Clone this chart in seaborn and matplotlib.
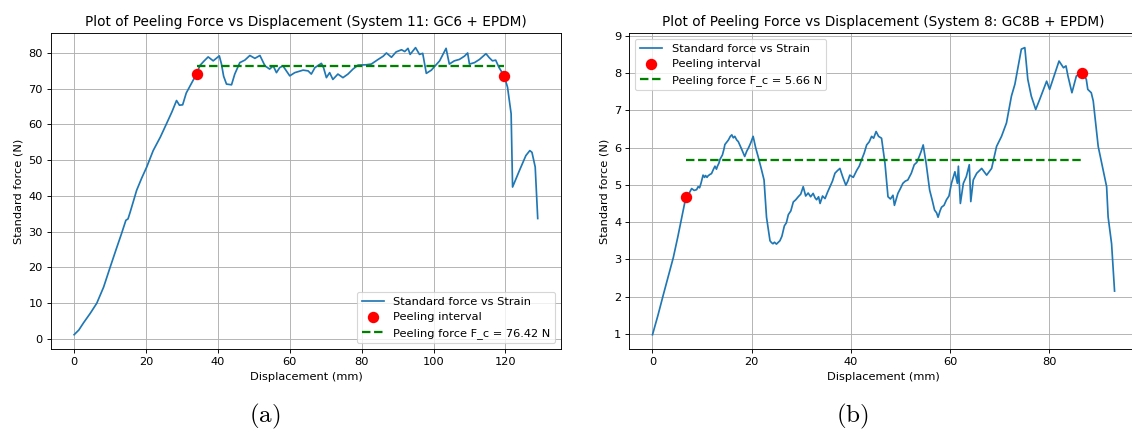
import matplotlib
matplotlib.use("Agg")
import matplotlib.pyplot as plt
import seaborn as sns

# system 11: GC6 + EPDM
a_disp = [0, 1.3, 2.6, 4.5, 6.3, 8.2, 10.0, 11.6, 13.2, 14.4, 15.0, 15.6, 17.4, 18.8,
          20.2, 22.0, 24.0, 25.7, 27.2, 28.5, 29.3, 30.2, 31.2, 32.7, 34.1, 35.0, 36.2,
          37.3, 38.7, 40.4, 41.0, 41.6, 42.4, 43.8, 44.7, 46.1, 47.5, 48.9, 50.3, 51.7,
          53.1, 54.4, 55.4, 56.3, 57.2, 58.1, 60.0, 61.4, 63.7, 65.1, 66.0, 67.0, 68.8,
          69.4, 70.2, 71.1, 72.0, 73.4, 74.8, 76.2, 77.6, 79.0, 81.3, 82.7, 84.6, 86.0,
          86.9, 88.3, 89.6, 91.1, 92.0, 92.9, 93.5, 95.0, 96.1, 97.0, 98.0, 99.4, 101.7,
          103.5, 104.4, 105.8, 107.2, 108.6, 109.5, 110.0, 111.4, 112.8, 114.6, 115.5,
          116.4, 117.3, 118.2, 119.7, 120.6, 121.6, 122.0, 123.9, 125.7, 126.8, 127.4,
          128.3, 129.0]
a_force = [1.2, 2.5, 4.5, 7.2, 10.0, 14.5, 20.0, 24.8, 29.5, 33.2, 33.6, 35.5, 41.6, 45.0,
           48.1, 52.7, 56.5, 60.2, 63.5, 66.7, 65.4, 65.5, 68.8, 71.6, 74.2, 76.5, 77.8,
           78.9, 77.8, 79.2, 76.9, 73.5, 71.3, 71.1, 74.1, 77.3, 78.0, 79.3, 78.5, 79.3,
           76.4, 75.5, 76.4, 74.5, 75.9, 76.4, 73.6, 74.5, 75.2, 75.0, 74.1, 75.9, 77.1,
           75.9, 73.1, 74.5, 72.6, 74.1, 73.1, 74.1, 75.5, 76.6, 76.7, 76.9, 78.2, 79.1,
           80.0, 78.8, 80.3, 80.9, 80.4, 81.3, 79.6, 81.5, 79.6, 79.9, 74.3, 75.2, 77.8,
           81.3, 76.9, 77.8, 78.2, 79.1, 80.0, 76.9, 77.3, 78.2, 79.8, 78.7,
           77.8, 78.0, 76.0, 73.5, 70.4, 63.0, 42.5, 47.1, 51.3, 52.7, 52.2,
           48.1, 33.7]
a_interval_x = [34.1, 119.7]
a_interval_y = [74.2, 73.5]
a_fc = 76.42

# system 8: GC8B + EPDM
b_disp = [0.0, 1.1, 2.2, 3.2, 4.2, 5.1, 5.9, 6.75, 7.3, 7.9, 8.4, 8.9, 9.2, 9.5, 9.8,
          10.2, 10.5, 10.7, 11.0, 11.2, 11.6, 11.9, 12.3, 12.6, 12.9, 13.1, 13.4, 13.6,
          14.1, 14.4, 14.6, 15.0, 15.3, 15.7, 16.0, 16.3, 16.6, 17.0, 17.3, 18.0, 18.6,
          19.0, 19.4, 19.8, 20.3, 20.8, 21.3, 22.0, 22.5, 23.0, 23.7, 24.0, 24.3, 24.6,
          25.0, 25.3, 25.7, 26.1, 26.6, 27.0, 27.4, 27.9, 28.4, 28.9, 29.4, 29.9, 30.4,
          30.9, 31.4, 31.9, 32.4, 32.8, 33.1, 33.5, 33.8, 34.3, 34.8, 35.3, 35.8, 36.3,
          36.8, 37.3, 37.8, 38.4, 39.0, 39.4, 39.8, 40.5, 41.2, 41.7, 42.2, 42.7, 43.2,
          43.7, 44.2, 44.6, 45.1, 45.6, 46.2, 46.9, 47.5, 48.0, 48.5, 48.8, 49.5, 50.0,
          50.5, 51.0, 51.5, 52.2, 52.8, 53.3, 53.8, 54.2, 54.6, 55.2, 55.9, 56.4, 56.9,
          57.3, 57.6, 58.0, 58.3, 58.8, 59.3, 59.8, 60.3, 61.0, 61.5, 61.7, 62.1, 62.7,
          63.3, 63.9, 64.2, 64.7, 65.4, 66.4, 67.4, 68.4, 69.4, 70.4, 71.4, 72.4, 73.1,
          73.8, 74.4, 75.1, 75.7, 76.4, 77.3, 78.1, 79.5, 80.1, 81.1, 82.0, 82.9, 83.4,
          83.8, 84.6, 85.5, 86.7, 87.5, 87.8, 88.5, 88.9, 89.9, 90.9, 91.6, 91.9, 92.6,
          93.2]
b_force = [0.98, 1.5, 2.06, 2.55, 3.05, 3.6, 4.13, 4.68, 4.75, 4.9, 4.85, 4.87, 4.95, 4.92, 5.05,
           5.26, 5.2, 5.25, 5.2, 5.24, 5.28, 5.3, 5.42, 5.5, 5.42, 5.5, 5.58, 5.68,
           5.8, 5.95, 6.08, 6.15, 6.2, 6.3, 6.34, 6.26, 6.3, 6.2, 6.16, 5.95, 5.76,
           5.9, 6.0, 6.12, 6.30, 6.0, 5.76, 5.4, 5.13, 4.13, 3.5, 3.45, 3.42, 3.46,
           3.41, 3.45, 3.5, 3.62, 3.9, 3.98, 4.2, 4.3, 4.54, 4.6, 4.68, 4.75, 4.95,
           4.7, 4.78, 4.68, 4.77, 4.65, 4.6, 4.68, 4.5, 4.7, 4.63, 4.8, 4.95, 5.1,
           5.31, 5.38, 5.44, 5.2, 4.99, 5.1, 5.26, 5.2, 5.39, 5.5, 5.68, 5.85, 6.07,
           6.15, 6.30, 6.25, 6.43, 6.3, 6.25, 5.57, 4.68, 4.62, 4.72, 4.45, 4.77, 4.9,
           5.04, 5.1, 5.13, 5.31, 5.54, 5.6, 5.76, 5.9, 6.07, 5.57, 4.86, 4.6, 4.32,
           4.25, 4.13, 4.3, 4.4, 4.45, 4.6, 4.7, 5.04, 5.35, 5.04, 5.5, 4.5, 5.04,
           5.22, 5.54, 4.55, 5.13, 5.31, 5.44, 5.26, 5.44, 6.03, 6.30, 6.66, 7.38, 7.7,
           8.2, 8.64, 8.68, 7.83, 7.38, 7.02, 7.29, 7.78, 7.56, 7.96, 8.32, 8.14, 8.19,
           7.92, 7.47, 7.92, 8.01, 7.83, 7.56, 7.47, 7.25, 6.03, 5.4, 4.95, 4.14, 3.42,
           2.15]
b_interval_x = [6.75, 86.7]
b_interval_y = [4.68, 8.01]
b_fc = 5.66

plt.rcParams["mathtext.fontset"] = "cm"
# the original figure looks like a default matplotlib figure shrunk to ~82%
fig = plt.figure(figsize=(1132 / 82, 432 / 82), dpi=82)
ax_a = fig.add_axes([0.045, 0.192, 0.4505, 0.731])
ax_b = fig.add_axes([0.556, 0.192, 0.449, 0.731])

panels = [
    (ax_a, a_disp, a_force, a_interval_x, a_interval_y, a_fc,
     "Plot of Peeling Force vs Displacement (System 11: GC6 + EPDM)", "lower right"),
    (ax_b, b_disp, b_force, b_interval_x, b_interval_y, b_fc,
     "Plot of Peeling Force vs Displacement (System 8: GC8B + EPDM)", "upper left"),
]

for ax, disp, force, ix, iy, fc, title, loc in panels:
    sns.lineplot(x=disp, y=force, ax=ax, sort=False, estimator=None,
                 color="#1f77b4", linewidth=1.5, label="Standard force vs Strain")
    sns.scatterplot(x=ix, y=iy, ax=ax, color="red", s=100, linewidth=0,
                    zorder=3, label="Peeling interval")
    sns.lineplot(x=ix, y=[fc, fc], ax=ax, color="green", linestyle="--",
                 linewidth=2, label=f"Peeling force F_c = {fc:.2f} N")
    ax.set_title(title)
    ax.set_xlabel("Displacement (mm)")
    ax.set_ylabel("Standard force (N)")
    ax.grid(True)
    ax.legend(loc=loc)

# sub-figure captions
fig.text(0.234, 0.036, r"$\mathrm{(a)}$", fontsize=22, ha="center", va="center")
fig.text(0.753, 0.036, r"$\mathrm{(b)}$", fontsize=22, ha="center", va="center")

fig.savefig("out.png", dpi=82)
